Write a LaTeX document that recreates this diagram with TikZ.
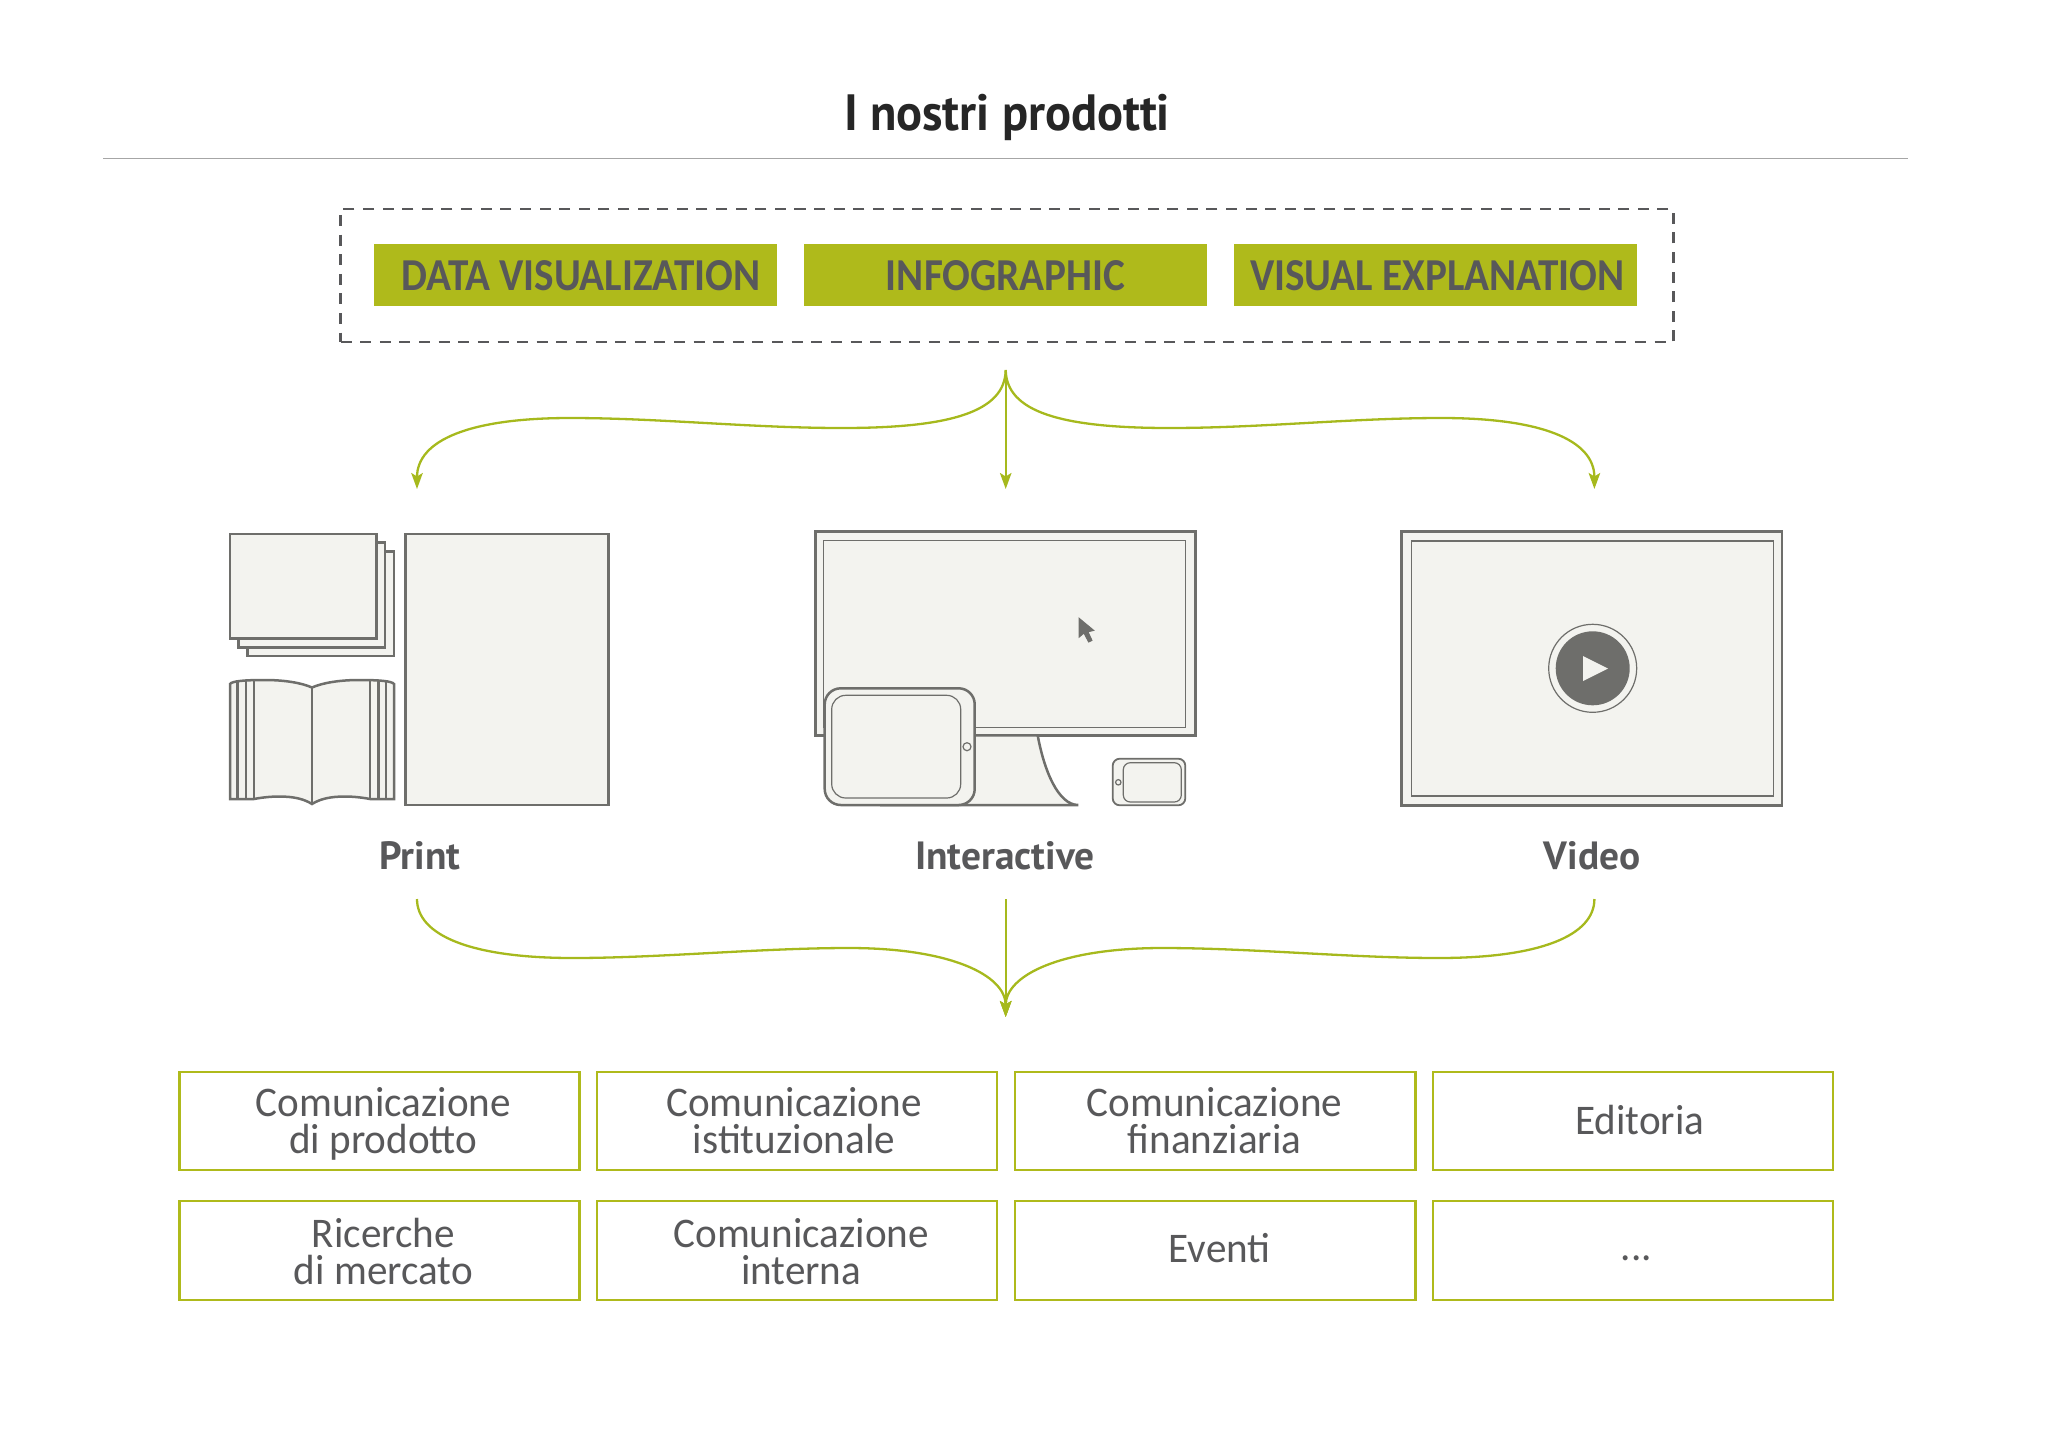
\documentclass[tikz,border=0pt]{standalone}
\usepackage{fontspec}
\usetikzlibrary{arrows.meta}
\setmainfont[FakeStretch=0.975]{Carlito}
\newfontfamily\titlefont[FakeStretch=0.95]{PT Sans}
\newfontfamily\headfont[FakeStretch=0.9]{Carlito}
\newfontfamily\namefont{PT Sans}
\definecolor{leaf}{HTML}{AFBA1B}
\definecolor{wire}{HTML}{A6B91D}
\definecolor{ink}{HTML}{58585A}
\definecolor{edge}{HTML}{6E6E6B}
\definecolor{paper}{HTML}{F3F3EF}
\tikzset{
	iconbold/.style={draw=edge, fill=paper, line width=0.25mm},
	iconthin/.style={draw=edge, line width=0.12mm},
	flowline/.style={draw=wire, line width=0.23mm},
	flowarrow/.style={flowline, -{Stealth[length=1.6mm, width=1.15mm, inset=0.35mm]}},
	headbox/.style={fill=leaf, minimum width=4.025cm, minimum height=0.61cm, inner sep=0pt},
	headtext/.style={text=ink, font=\headfont\bfseries\fontsize{13}{13}\selectfont},
	prodbox/.style={draw=leaf, line width=0.23mm, minimum width=4cm, minimum height=0.985cm, inner sep=0pt},
	prodtext/.style={text=ink, align=center, font=\fontsize{12}{10.4}\selectfont},
	nametext/.style={text=ink, font=\namefont\bfseries\fontsize{11.2}{12}\selectfont}
}

\begin{document}
\begin{tikzpicture}[x=0.01cm, y=-0.01cm]
		%%%%% START %%%%%
		\useasboundingbox (0, 0) rectangle (2048, 1448);
		
		\node[text=black!85, font=\titlefont\bfseries\fontsize{14.5}{16}\selectfont] (title) at (1007, 117) {I nostri prodotti};
		\draw[line width=0.08mm, color=black!35] (103, 158.7) -- (1908, 158.7);
		
		\node[draw=ink, line width=0.25mm, dash pattern=on 1.1mm off 0.86mm, minimum width=13.32cm, minimum height=1.33cm, inner sep=0pt] (group) at (1007, 275.7) {};
		\node[headbox] (dataviz) at (575.7, 275) {};
		\node[headbox] (infographic) at (1005.6, 275) {};
		\node[headbox] (explanation) at (1435.6, 275) {};
		\node[headtext] (datavizname) at (581, 276) {DATA VISUALIZATION};
		\node[headtext] (infographicname) at (1005.6, 276) {INFOGRAPHIC};
		\node[headtext] (explanationname) at (1437.3, 276) {VISUAL EXPLANATION};
		
		\coordinate (forktop) at (1005.7, 370);
		\coordinate (tipprint) at (417, 489);
		\coordinate (tipinter) at (1005.7, 489);
		\coordinate (tipvideo) at (1594.4, 489);
		\draw[flowarrow] (forktop) .. controls (1005, 412) and (950, 428) .. (842, 428) .. controls (750, 428) and (660, 418) .. (570, 418) .. controls (470, 418) and (417, 440) .. (tipprint);
		\draw[flowarrow] (forktop) -- (tipinter);
		\draw[flowarrow] (forktop) .. controls (1006.4, 412) and (1061.4, 428) .. (1169.4, 428) .. controls (1261.4, 428) and (1351.4, 418) .. (1441.4, 418) .. controls (1541.4, 418) and (1594.4, 440) .. (tipvideo);
		
		% print
		\draw[iconbold] (405.7, 534) rectangle (608.7, 805);
		\draw[iconbold] (247.3, 551.3) rectangle (394, 656);
		\draw[iconbold] (238.7, 542.7) rectangle (385, 647.3);
		\draw[iconbold] (230, 534) rectangle (376.7, 638.7);
		
		\draw[iconbold] (230, 799) -- (230, 684) .. controls (232, 681) and (245, 680) .. (265, 680) .. controls (285, 680) and (302, 683) .. (312, 687.5) .. controls (322, 683) and (339, 680) .. (359, 680) .. controls (379, 680) and (392, 681) .. (394, 684) -- (394, 799) -- (370, 799) .. controls (360, 797) and (350, 796.5) .. (345, 796.5) .. controls (330, 796.5) and (320, 799) .. (312, 804) .. controls (304, 799) and (294, 796.5) .. (279, 796.5) .. controls (274, 796.5) and (264, 797) .. (254, 799) -- cycle;
		\draw[iconbold] (237.7, 799) -- (237.7, 682);
		\draw[iconbold] (246, 799) -- (246, 681);
		\draw[iconbold] (254, 799) -- (254, 680.5);
		\draw[iconbold] (370, 799) -- (370, 680.5);
		\draw[iconbold] (378.3, 799) -- (378.3, 681);
		\draw[iconbold] (386, 799) -- (386, 682);
		\draw[iconbold] (312, 804) -- (312, 687.5);
		
		% interactive
		\draw[iconbold] (815.3, 531.3) rectangle (1195.3, 735.3);
		\draw[iconthin] (823.7, 540.7) rectangle (1185.7, 727.3);
		\draw[edge, fill=edge] (1079.3, 618.7) -- (1079.3, 636.7) -- (1084, 632.7) -- (1088.7, 641.7) -- (1091.7, 640.3) -- (1087.7, 631.7) -- (1093.3, 630.3) -- cycle;
		\draw[iconbold] (880, 735.3) -- (1037.7, 735.3) .. controls (1044, 770) and (1058, 805) .. (1078.3, 805) -- (880, 805);
		\draw[iconbold, rounded corners=0.16cm] (824.7, 688.3) rectangle (974.7, 805);
		\draw[iconthin, rounded corners=0.14cm] (831.7, 695.3) rectangle (960.7, 798);
		\draw[iconthin] (967, 746.7) circle (4);
		\draw[iconbold, line width=0.18mm, rounded corners=0.07cm] (1112.7, 758.7) rectangle (1185.3, 805.3);
		\draw[iconthin, rounded corners=0.07cm] (1123.3, 762.7) rectangle (1181.3, 802);
		\draw[iconthin] (1118.3, 782.3) circle (2.7);
		
		% video
		\draw[iconbold] (1401.7, 531.3) rectangle (1782, 805.7);
		\draw[iconthin] (1411.7, 541) rectangle (1773.7, 796);
		\draw[iconthin] (1592.7, 668.3) circle (44);
		\fill[edge] (1592.7, 668.3) circle (37);
		\fill[paper] (1583, 656) -- (1608, 668.5) -- (1583, 681) -- cycle;
		
		\node[nametext] (print) at (420, 856) {Print};
		\node[nametext] (interactive) at (1005, 856) {Interactive};
		\node[nametext] (video) at (1592, 856) {Video};
		
		\coordinate (forkprint) at (417, 899);
		\coordinate (forkinter) at (1005.7, 899);
		\coordinate (forkvideo) at (1594.4, 899);
		\coordinate (tipbottom) at (1005.7, 1017);
		\draw[flowarrow] (forkprint) .. controls (417, 935) and (470, 958) .. (573, 958) .. controls (660, 958) and (760, 948) .. (849, 948) .. controls (950, 948) and (1005.7, 975) .. (tipbottom);
		\draw[flowarrow] (forkinter) -- (tipbottom);
		\draw[flowarrow] (forkvideo) .. controls (1594.4, 935) and (1541.4, 958) .. (1438.4, 958) .. controls (1351.4, 958) and (1251.4, 948) .. (1162.4, 948) .. controls (1061.4, 948) and (1005.7, 975) .. (tipbottom);
		
		\node[prodbox] (boxa) at (379.5, 1121) {};
		\node[prodbox] (boxb) at (797, 1121) {};
		\node[prodbox] (boxc) at (1215.3, 1121) {};
		\node[prodbox] (boxd) at (1633, 1121) {};
		\node[prodbox] (boxe) at (379.5, 1250.5) {};
		\node[prodbox] (boxf) at (797, 1250.5) {};
		\node[prodbox] (boxg) at (1215.3, 1250.5) {};
		\node[prodbox] (boxh) at (1633, 1250.5) {};
		
		\node[prodtext] (texta) at (383.3, 1124) {Comunicazione\\di prodotto};
		\node[prodtext] (textb) at (794, 1120.4) {Comunicazione\\istituzionale};
		\node[prodtext] (textc) at (1214.6, 1120.4) {Comunicazione\\finanziaria};
		\node[prodtext] (textd) at (1639.7, 1119.5) {Editoria};
		\node[prodtext] (texte) at (383.3, 1251.4) {Ricerche\\di mercato};
		\node[prodtext] (textf) at (801.2, 1251.4) {Comunicazione\\interna};
		\node[prodtext] (textg) at (1219.8, 1248.4) {Eventi};
		\node[prodtext] (texth) at (1636.4, 1258) {...};
		
		%%%%% END %%%%%
	\end{tikzpicture}
\end{document}
